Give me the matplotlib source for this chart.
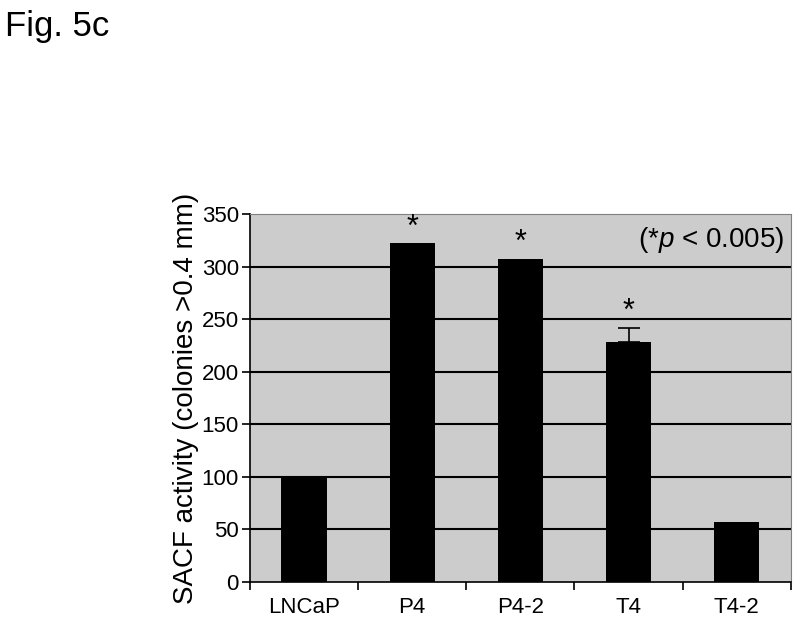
import matplotlib
matplotlib.use("Agg")
import matplotlib.pyplot as plt
import numpy as np

categories = ["LNCaP", "P4", "P4-2", "T4", "T4-2"]
values = [101, 322, 307, 228, 57]
errors = [0, 0, 0, 13.5, 0]
significant = [False, True, True, True, False]
yticks = [0, 50, 100, 150, 200, 250, 300, 350]

plt.rcParams['font.family'] = ['Liberation Sans', 'DejaVu Sans']
plt.rcParams['mathtext.fontset'] = 'custom'
plt.rcParams['mathtext.rm'] = 'Liberation Sans'
plt.rcParams['mathtext.it'] = 'Liberation Sans:italic'

fig = plt.figure(figsize=(8, 6.37), dpi=100)
ax = fig.add_axes([0.3125, 0.0863, 0.676, 0.5777])
ax.set_facecolor('#cccccc')

x = np.arange(len(categories))
ax.bar(x, values, width=0.42, color='black', zorder=3)
for xi, v, e in zip(x, values, errors):
    if e > 0:
        ax.errorbar([xi], [v], yerr=[[0], [e]], fmt='none', ecolor='black',
                    elinewidth=1.2, capsize=8, capthick=1.2, zorder=4)

for xi, v, e, s in zip(x, values, errors, significant):
    if s:
        ax.text(xi, v + e + 1, '*', ha='center', va='bottom', fontsize=22)

ax.set_xlim(-0.5, len(categories) - 0.5)
ax.set_ylim(0, 350)
ax.set_yticks(yticks)
ax.set_yticklabels([str(t) for t in yticks], fontsize=16)
ax.set_xticks(x)
ax.set_xticklabels(categories, fontsize=16)
ax.set_xticks(np.arange(-0.5, len(categories)), minor=True)
ax.tick_params(axis='x', which='major', length=0, pad=11)
ax.tick_params(axis='x', which='minor', length=6, width=1.2, direction='out')
ax.tick_params(axis='y', length=6, width=1.2, direction='out', pad=2)

for t in yticks[1:-1]:
    ax.axhline(t, color='black', lw=1.5, zorder=1)

ax.spines['left'].set_color('black')
ax.spines['left'].set_linewidth(1.2)
ax.spines['bottom'].set_color('black')
ax.spines['bottom'].set_linewidth(1.2)
ax.spines['top'].set_color('#808080')
ax.spines['right'].set_color('#808080')

ax.set_ylabel('SACF activity (colonies >0.4 mm)', fontsize=20, labelpad=2)

ax.text(0.988, 325, r'(*$\mathit{p}$ < 0.005)', transform=ax.get_yaxis_transform(),
        ha='right', va='center', fontsize=20)

fig.text(0.006, 0.985, 'Fig. 5c', ha='left', va='top', fontsize=25)

fig.savefig('out.png', dpi=100)
